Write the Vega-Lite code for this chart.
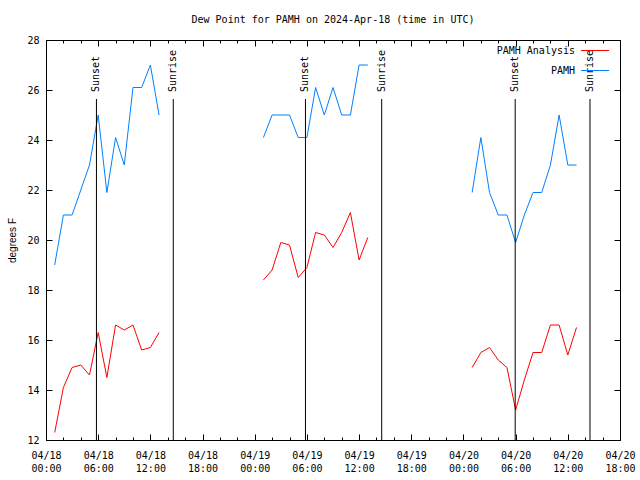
{
  "$schema": "https://vega.github.io/schema/vega-lite/v6.json",
  "width": 574,
  "height": 400,
  "autosize": {"type": "none"},
  "padding": {"left": 46, "top": 40, "right": 20, "bottom": 40},
  "background": "white",
  "title": {
    "text": "Dew Point for PAMH on 2024-Apr-18 (time in UTC)",
    "font": "DejaVu Sans Mono",
    "fontSize": 10,
    "fontWeight": "normal",
    "color": "black",
    "offset": 10,
    "anchor": "middle"
  },
  "config": {
    "view": {"stroke": "black", "strokeWidth": 1},
    "axis": {
      "domain": false,
      "grid": false,
      "tickColor": "black",
      "tickWidth": 1,
      "labelColor": "black",
      "labelFont": "DejaVu Sans Mono",
      "labelFontSize": 10,
      "titleColor": "black"
    }
  },
  "datasets": {
    "obs": [
      {"t": "2024-04-18T01:00:00Z", "s": "PAMH", "seg": 1, "v": 19.0},
      {"t": "2024-04-18T02:00:00Z", "s": "PAMH", "seg": 1, "v": 21.0},
      {"t": "2024-04-18T03:00:00Z", "s": "PAMH", "seg": 1, "v": 21.0},
      {"t": "2024-04-18T04:00:00Z", "s": "PAMH", "seg": 1, "v": 22.0},
      {"t": "2024-04-18T05:00:00Z", "s": "PAMH", "seg": 1, "v": 23.0},
      {"t": "2024-04-18T06:00:00Z", "s": "PAMH", "seg": 1, "v": 25.0},
      {"t": "2024-04-18T07:00:00Z", "s": "PAMH", "seg": 1, "v": 21.9},
      {"t": "2024-04-18T08:00:00Z", "s": "PAMH", "seg": 1, "v": 24.1},
      {"t": "2024-04-18T09:00:00Z", "s": "PAMH", "seg": 1, "v": 23.0},
      {"t": "2024-04-18T10:00:00Z", "s": "PAMH", "seg": 1, "v": 26.1},
      {"t": "2024-04-18T11:00:00Z", "s": "PAMH", "seg": 1, "v": 26.1},
      {"t": "2024-04-18T12:00:00Z", "s": "PAMH", "seg": 1, "v": 27.0},
      {"t": "2024-04-18T13:00:00Z", "s": "PAMH", "seg": 1, "v": 25.0},
      {"t": "2024-04-19T01:00:00Z", "s": "PAMH", "seg": 2, "v": 24.1},
      {"t": "2024-04-19T02:00:00Z", "s": "PAMH", "seg": 2, "v": 25.0},
      {"t": "2024-04-19T03:00:00Z", "s": "PAMH", "seg": 2, "v": 25.0},
      {"t": "2024-04-19T04:00:00Z", "s": "PAMH", "seg": 2, "v": 25.0},
      {"t": "2024-04-19T05:00:00Z", "s": "PAMH", "seg": 2, "v": 24.1},
      {"t": "2024-04-19T06:00:00Z", "s": "PAMH", "seg": 2, "v": 24.1},
      {"t": "2024-04-19T07:00:00Z", "s": "PAMH", "seg": 2, "v": 26.1},
      {"t": "2024-04-19T08:00:00Z", "s": "PAMH", "seg": 2, "v": 25.0},
      {"t": "2024-04-19T09:00:00Z", "s": "PAMH", "seg": 2, "v": 26.1},
      {"t": "2024-04-19T10:00:00Z", "s": "PAMH", "seg": 2, "v": 25.0},
      {"t": "2024-04-19T11:00:00Z", "s": "PAMH", "seg": 2, "v": 25.0},
      {"t": "2024-04-19T12:00:00Z", "s": "PAMH", "seg": 2, "v": 27.0},
      {"t": "2024-04-19T13:00:00Z", "s": "PAMH", "seg": 2, "v": 27.0},
      {"t": "2024-04-20T01:00:00Z", "s": "PAMH", "seg": 3, "v": 21.9},
      {"t": "2024-04-20T02:00:00Z", "s": "PAMH", "seg": 3, "v": 24.1},
      {"t": "2024-04-20T03:00:00Z", "s": "PAMH", "seg": 3, "v": 21.9},
      {"t": "2024-04-20T04:00:00Z", "s": "PAMH", "seg": 3, "v": 21.0},
      {"t": "2024-04-20T05:00:00Z", "s": "PAMH", "seg": 3, "v": 21.0},
      {"t": "2024-04-20T06:00:00Z", "s": "PAMH", "seg": 3, "v": 19.9},
      {"t": "2024-04-20T07:00:00Z", "s": "PAMH", "seg": 3, "v": 21.0},
      {"t": "2024-04-20T08:00:00Z", "s": "PAMH", "seg": 3, "v": 21.9},
      {"t": "2024-04-20T09:00:00Z", "s": "PAMH", "seg": 3, "v": 21.9},
      {"t": "2024-04-20T10:00:00Z", "s": "PAMH", "seg": 3, "v": 23.0},
      {"t": "2024-04-20T11:00:00Z", "s": "PAMH", "seg": 3, "v": 25.0},
      {"t": "2024-04-20T12:00:00Z", "s": "PAMH", "seg": 3, "v": 23.0},
      {"t": "2024-04-20T13:00:00Z", "s": "PAMH", "seg": 3, "v": 23.0},
      {"t": "2024-04-18T01:00:00Z", "s": "PAMH Analysis", "seg": 1, "v": 12.3},
      {"t": "2024-04-18T02:00:00Z", "s": "PAMH Analysis", "seg": 1, "v": 14.1},
      {"t": "2024-04-18T03:00:00Z", "s": "PAMH Analysis", "seg": 1, "v": 14.9},
      {"t": "2024-04-18T04:00:00Z", "s": "PAMH Analysis", "seg": 1, "v": 15.0},
      {"t": "2024-04-18T05:00:00Z", "s": "PAMH Analysis", "seg": 1, "v": 14.6},
      {"t": "2024-04-18T06:00:00Z", "s": "PAMH Analysis", "seg": 1, "v": 16.3},
      {"t": "2024-04-18T07:00:00Z", "s": "PAMH Analysis", "seg": 1, "v": 14.5},
      {"t": "2024-04-18T08:00:00Z", "s": "PAMH Analysis", "seg": 1, "v": 16.6},
      {"t": "2024-04-18T09:00:00Z", "s": "PAMH Analysis", "seg": 1, "v": 16.4},
      {"t": "2024-04-18T10:00:00Z", "s": "PAMH Analysis", "seg": 1, "v": 16.6},
      {"t": "2024-04-18T11:00:00Z", "s": "PAMH Analysis", "seg": 1, "v": 15.6},
      {"t": "2024-04-18T12:00:00Z", "s": "PAMH Analysis", "seg": 1, "v": 15.7},
      {"t": "2024-04-18T13:00:00Z", "s": "PAMH Analysis", "seg": 1, "v": 16.3},
      {"t": "2024-04-19T01:00:00Z", "s": "PAMH Analysis", "seg": 2, "v": 18.4},
      {"t": "2024-04-19T02:00:00Z", "s": "PAMH Analysis", "seg": 2, "v": 18.8},
      {"t": "2024-04-19T03:00:00Z", "s": "PAMH Analysis", "seg": 2, "v": 19.9},
      {"t": "2024-04-19T04:00:00Z", "s": "PAMH Analysis", "seg": 2, "v": 19.8},
      {"t": "2024-04-19T05:00:00Z", "s": "PAMH Analysis", "seg": 2, "v": 18.5},
      {"t": "2024-04-19T06:00:00Z", "s": "PAMH Analysis", "seg": 2, "v": 18.9},
      {"t": "2024-04-19T07:00:00Z", "s": "PAMH Analysis", "seg": 2, "v": 20.3},
      {"t": "2024-04-19T08:00:00Z", "s": "PAMH Analysis", "seg": 2, "v": 20.2},
      {"t": "2024-04-19T09:00:00Z", "s": "PAMH Analysis", "seg": 2, "v": 19.7},
      {"t": "2024-04-19T10:00:00Z", "s": "PAMH Analysis", "seg": 2, "v": 20.3},
      {"t": "2024-04-19T11:00:00Z", "s": "PAMH Analysis", "seg": 2, "v": 21.1},
      {"t": "2024-04-19T12:00:00Z", "s": "PAMH Analysis", "seg": 2, "v": 19.2},
      {"t": "2024-04-19T13:00:00Z", "s": "PAMH Analysis", "seg": 2, "v": 20.1},
      {"t": "2024-04-20T01:00:00Z", "s": "PAMH Analysis", "seg": 3, "v": 14.9},
      {"t": "2024-04-20T02:00:00Z", "s": "PAMH Analysis", "seg": 3, "v": 15.5},
      {"t": "2024-04-20T03:00:00Z", "s": "PAMH Analysis", "seg": 3, "v": 15.7},
      {"t": "2024-04-20T04:00:00Z", "s": "PAMH Analysis", "seg": 3, "v": 15.2},
      {"t": "2024-04-20T05:00:00Z", "s": "PAMH Analysis", "seg": 3, "v": 14.9},
      {"t": "2024-04-20T06:00:00Z", "s": "PAMH Analysis", "seg": 3, "v": 13.2},
      {"t": "2024-04-20T07:00:00Z", "s": "PAMH Analysis", "seg": 3, "v": 14.4},
      {"t": "2024-04-20T08:00:00Z", "s": "PAMH Analysis", "seg": 3, "v": 15.5},
      {"t": "2024-04-20T09:00:00Z", "s": "PAMH Analysis", "seg": 3, "v": 15.5},
      {"t": "2024-04-20T10:00:00Z", "s": "PAMH Analysis", "seg": 3, "v": 16.6},
      {"t": "2024-04-20T11:00:00Z", "s": "PAMH Analysis", "seg": 3, "v": 16.6},
      {"t": "2024-04-20T12:00:00Z", "s": "PAMH Analysis", "seg": 3, "v": 15.4},
      {"t": "2024-04-20T13:00:00Z", "s": "PAMH Analysis", "seg": 3, "v": 16.5}
    ],
    "sun": [
      {"t": "2024-04-18T05:48:00Z", "event": "Sunset"},
      {"t": "2024-04-18T14:38:00Z", "event": "Sunrise"},
      {"t": "2024-04-19T05:50:00Z", "event": "Sunset"},
      {"t": "2024-04-19T14:36:00Z", "event": "Sunrise"},
      {"t": "2024-04-20T05:57:00Z", "event": "Sunset"},
      {"t": "2024-04-20T14:33:00Z", "event": "Sunrise"}
    ]
  },
  "layer": [
    {
      "data": {"name": "obs"},
      "mark": {"type": "line", "strokeWidth": 1},
      "encoding": {
        "x": {
          "field": "t",
          "type": "temporal",
          "scale": {"type": "utc", "domain": [1713398400000, 1713636000000]},
          "axis": {
            "orient": "bottom",
            "title": null,
            "values": [1713398400000, 1713405600000, 1713412800000, 1713420000000, 1713427200000, 1713434400000, 1713441600000, 1713448800000, 1713456000000, 1713463200000, 1713470400000, 1713477600000, 1713484800000, 1713492000000, 1713499200000, 1713506400000, 1713513600000, 1713520800000, 1713528000000, 1713535200000, 1713542400000, 1713549600000, 1713556800000, 1713564000000, 1713571200000, 1713578400000, 1713585600000, 1713592800000, 1713600000000, 1713607200000, 1713614400000, 1713621600000, 1713628800000, 1713636000000],
            "labelExpr": "utchours(datum.value) % 6 == 0 ? [utcFormat(datum.value, '%m/%d'), utcFormat(datum.value, '%H:%M')] : ''",
            "labelOverlap": false,
            "labelFlush": false,
            "labelBaseline": "top",
            "labelLineHeight": 13,
            "labelPadding": 16,
            "tickSize": {"condition": {"test": "utchours(datum.value) % 6 == 0", "value": -6}, "value": -3}
          }
        },
        "y": {
          "field": "v",
          "type": "quantitative",
          "scale": {"domain": [12, 28], "nice": false, "zero": false},
          "axis": {
            "orient": "left",
            "title": "degrees F",
            "titleFont": "Liberation Sans",
            "titleFontSize": 10,
            "titleFontWeight": "normal",
            "titlePadding": 9,
            "values": [12, 14, 16, 18, 20, 22, 24, 26, 28],
            "tickSize": -6,
            "labelPadding": 13
          }
        },
        "color": {
          "field": "s",
          "type": "nominal",
          "scale": {"domain": ["PAMH Analysis", "PAMH"], "range": ["#ff0000", "#0080ff"]},
          "legend": {
            "title": null,
            "orient": "none",
            "legendX": 529,
            "legendY": -4,
            "symbolType": "stroke",
            "symbolSize": 100,
            "symbolStrokeWidth": 1,
            "labelFont": "DejaVu Sans Mono",
            "labelFontSize": 10,
            "labelColor": "black",
            "rowPadding": -7,
            "encode": {
              "labels": {"update": {"x": {"value": 0}, "align": {"value": "right"}}},
              "symbols": {"update": {"x": {"value": 20}, "size": {"value": 784}}}
            }
          }
        },
        "detail": {"field": "seg", "type": "nominal"}
      }
    },
    {
      "data": {"name": "sun"},
      "mark": {"type": "rule", "color": "black", "strokeWidth": 1},
      "encoding": {
        "x": {
          "field": "t",
          "type": "temporal",
          "axis": {
            "orient": "top",
            "title": null,
            "labels": false,
            "values": [1713398400000, 1713405600000, 1713412800000, 1713420000000, 1713427200000, 1713434400000, 1713441600000, 1713448800000, 1713456000000, 1713463200000, 1713470400000, 1713477600000, 1713484800000, 1713492000000, 1713499200000, 1713506400000, 1713513600000, 1713520800000, 1713528000000, 1713535200000, 1713542400000, 1713549600000, 1713556800000, 1713564000000, 1713571200000, 1713578400000, 1713585600000, 1713592800000, 1713600000000, 1713607200000, 1713614400000, 1713621600000, 1713628800000, 1713636000000],
            "tickSize": {"condition": {"test": "utchours(datum.value) % 6 == 0", "value": -6}, "value": -3}
          }
        },
        "y": {
          "datum": 12,
          "type": "quantitative",
          "axis": {
            "orient": "right",
            "title": null,
            "labels": false,
            "values": [12, 14, 16, 18, 20, 22, 24, 26, 28],
            "tickSize": -6
          }
        },
        "y2": {"datum": 25.64}
      }
    },
    {
      "data": {"name": "sun"},
      "mark": {
        "type": "text",
        "angle": 270,
        "align": "left",
        "baseline": "middle",
        "font": "DejaVu Sans Mono",
        "fontSize": 10,
        "color": "black"
      },
      "encoding": {
        "x": {"field": "t", "type": "temporal", "axis": null},
        "y": {"datum": 25.92, "type": "quantitative", "axis": null},
        "text": {"field": "event"}
      }
    }
  ],
  "resolve": {"axis": {"x": "independent", "y": "independent"}}
}
